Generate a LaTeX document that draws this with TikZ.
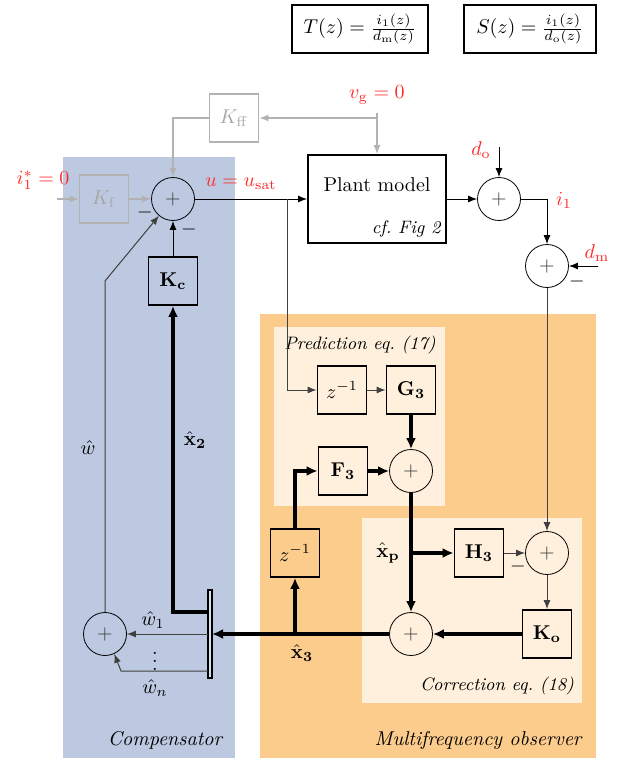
\documentclass[tikz,border=0pt]{standalone}
\usepackage{amsmath, amssymb}
\usepackage{xcolor}
\usetikzlibrary{arrows.meta}

\definecolor{compblue}{RGB}{189,201,225}
\definecolor{obsorange}{RGB}{252,204,140}
\definecolor{eqcream}{RGB}{254,240,220}
\definecolor{sigred}{RGB}{255,40,40}

\begin{document}
\begin{tikzpicture}[x=0.5pt, y=-0.5pt,
    block/.style={draw, line width=0.9pt, minimum width=24.5pt, minimum height=24pt, inner sep=1pt},
    grayblock/.style={block, draw=black!30, text=black!35},
    sumnode/.style={draw, circle, thin, minimum size=21.5pt, inner sep=0pt, text=black!75},
    thinarrow/.style={line width=0.5pt, -{Latex[length=4.5pt, width=3.5pt]}},
    grayarrow/.style={thinarrow, draw=black!30, line width=0.7pt},
    thickarrow/.style={line width=1.8pt, -{Latex[length=5.5pt, width=5pt]}},
    sig/.style={text=sigred},
    tag/.style={inner sep=0pt}]
    \useasboundingbox (0,0) rectangle (616,760);

    % Regions
    \fill[compblue] (63,157) rectangle (235,758);
    \fill[obsorange] (260,314) rectangle (596,758);
    \fill[eqcream] (274,327) rectangle (445,506);
    \fill[eqcream] (362,518) rectangle (582,703);
    \node[font=\itshape] at (165,740) {Compensator};
    \node[font=\itshape] at (478,740) {Multifrequency observer};
    \node[font=\small\itshape] at (360,345) {Prediction eq.\ (17)};
    \node[font=\small\itshape] at (497,686) {Correction eq.\ (18)};

    % Transfer functions
    \node[draw, line width=0.8pt, minimum width=68pt, minimum height=24pt] (Tbox) at (360,29) {$T(z) = \frac{i_1(z)}{d_\mathrm{m}(z)}$};
    \node[draw, line width=0.8pt, minimum width=66pt, minimum height=24pt] (Sbox) at (530,29) {$S(z) = \frac{i_1(z)}{d_\mathrm{o}(z)}$};

    % Blocks
    \node[grayblock] (Kff) at (234,118) {$K_\mathrm{ff}$};
    \node[grayblock] (Kf) at (104,199) {$K_\mathrm{f}$};
    \node[sumnode] (sum1) at (173,199) {$+$};
    \node[block] (Kc) at (173,281) {$\mathbf{K_c}$};
    \node[block, minimum width=69pt, minimum height=44pt] (plant) at (377,199) {};
    \node (plantname) at (377,185) {Plant model};
    \node[font=\small\itshape, anchor=south east, inner sep=3pt] (plantref) at (plant.south east) {cf.\ Fig 2};
    \node[sumnode] (sum2) at (499,199) {$+$};
    \node[sumnode] (sum3) at (547,266) {$+$};
    \node[block] (zinv1) at (342,390) {$z^{-1}$};
    \node[block] (G3) at (411,390) {$\mathbf{G_3}$};
    \node[block] (F3) at (343,471) {$\mathbf{F_3}$};
    \node[sumnode] (sum5) at (411,471) {$+$};
    \node[block] (H3) at (479,553) {$\mathbf{H_3}$};
    \node[sumnode] (sum4) at (547,553) {$+$};
    \node[block] (Ko) at (547,634) {$\mathbf{K_o}$};
    \node[sumnode] (sum6) at (411,634) {$+$};
    \node[block, fill=obsorange] (zinv2) at (295,553) {$z^{-1}$};
    \node[sumnode] (sum7) at (105,634) {$+$};

    % Signals
    \node[sig] (ireflab) at (43,180) {$i_1^* = 0$};
    \node[sig] (ulab) at (241,184) {$u = u_\mathrm{sat}$};
    \node[sig] (vglab) at (377,95) {$v_\mathrm{g} = 0$};
    \node[sig] (dolab) at (481,150) {$d_\mathrm{o}$};
    \node[sig] (i1lab) at (564,200) {$i_1$};
    \node[sig] (dmlab) at (597,253) {$d_\mathrm{m}$};
    \coordinate (irefin) at (57,199);
    \coordinate (vgin) at (377,113);
    \coordinate (doin) at (499,147);
    \coordinate (dmin) at (598,266);
    \coordinate (ubranch) at (287,199);
    \coordinate (xp) at (411,553);
    \coordinate (x3b) at (295,634);
    \coordinate (x2out) at (208,612);
    \coordinate (wnout) at (208,671);
    \coordinate (wncorner) at (121,671);
    \coordinate (wcorner) at (105,281);

    % Feedforward (gray)
    \draw[grayarrow] (irefin) -- (Kf.west);
    \draw[grayarrow] (Kf.east) -- (sum1.west);
    \draw[grayarrow] (vgin) -- (plant.north);
    \draw[grayarrow] (vgin) |- (Kff.east);
    \draw[grayarrow] (Kff.west) -| (sum1.north);

    % Plant loop
    \draw[thinarrow] (sum1.east) -- (plant.west);
    \draw[thinarrow] (plant.east) -- (sum2.west);
    \draw[thinarrow] (doin) -- (sum2.north);
    \draw[thinarrow] (sum2.east) -| (sum3.north);
    \draw[thinarrow] (dmin) -- (sum3.east);
    \draw[thinarrow, black!75] (sum3.south) -- (sum4.north);
    \draw[thinarrow, black!75] (ubranch) |- (zinv1.west);
    \node[tag] at (145,212) {$-$};
    \node[tag] at (189,229) {$-$};
    \node[tag] at (577,281) {$-$};

    % Prediction
    \draw[thinarrow, black!75] (zinv1.east) -- (G3.west);
    \draw[thickarrow] (G3.south) -- (sum5.north);
    \draw[thickarrow] (F3.east) -- (sum5.west);
    \draw[thickarrow] (sum5.south) -- (sum6.north);

    % Correction
    \draw[thickarrow] (xp) -- (H3.west);
    \node[tag] at (388,553) {$\hat{\mathbf{x}}_\mathbf{p}$};
    \draw[thinarrow, black!75] (H3.east) -- (sum4.west);
    \node[tag] at (518,566) {$-$};
    \draw[thinarrow, black!75] (sum4.south) -- (Ko.north);
    \draw[thickarrow] (Ko.west) -- (sum6.east);

    % State estimate
    \draw[thickarrow] (sum6.west) -- (212,634);
    \node[tag] at (302,653) {$\hat{\mathbf{x}}_\mathbf{3}$};
    \draw[thickarrow] (x3b) -- (zinv2.south);
    \draw[thickarrow] (zinv2.north) |- (F3.west);
    \draw[thickarrow] (x2out) -| (Kc.south);
    \node[tag] at (195,440) {$\hat{\mathbf{x}}_\mathbf{2}$};
    \draw[thinarrow] (Kc.north) -- (sum1.south);
    \draw[line width=0.8pt, fill=compblue!60!white] (208,590) rectangle (212,678);

    % Compensator
    \draw[thinarrow, black!75] (208,634) -- (sum7.east);
    \node[tag] at (153,620) {$\hat{w}_1$};
    \node[tag] at (155,655) {$\vdots$};
    \draw[thinarrow, black!75] (wnout) -- (wncorner) -- (sum7.-65);
    \node[tag] at (155,688) {$\hat{w}_n$};
    \draw[thinarrow, black!75] (sum7.north) -- (wcorner) -- (sum1.230);
    \node[tag] at (88,448) {$\hat{w}$};
\end{tikzpicture}
\end{document}
